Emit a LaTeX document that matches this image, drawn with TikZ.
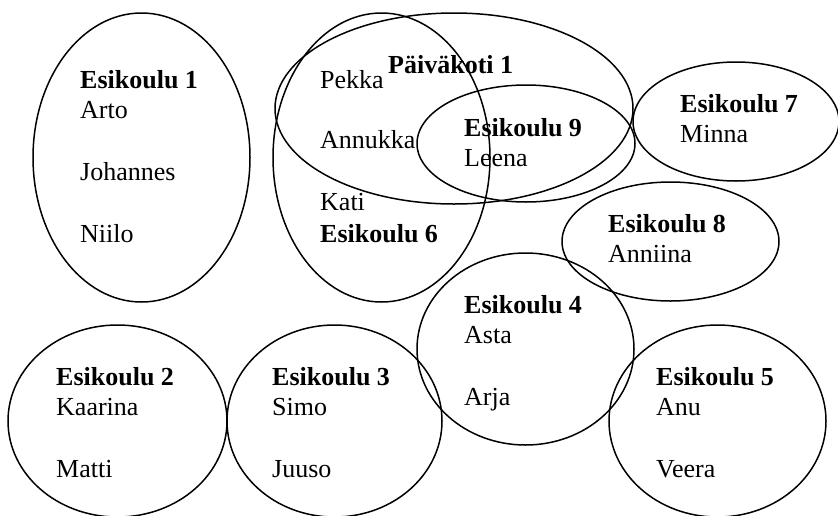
\documentclass[tikz,border=0pt]{standalone}
\usepackage{fontspec}
\setmainfont{Liberation Serif}
\usetikzlibrary{positioning}
\tikzset{
	koulu/.style={line width=1.5pt},
	otsikko/.style={anchor=base west, inner sep=0pt, font=\fontsize{26}{30}\selectfont\bfseries},
	nimi/.style={anchor=base west, inner sep=0pt, font=\fontsize{26}{30}\selectfont}
}

\begin{document}
\begin{tikzpicture}[x=1pt, y=-1pt]
		%%%%% START %%%%%
		\useasboundingbox (0, 0) rectangle (838, 515);
		
		\draw[koulu] (141.5, 157.5) ellipse [x radius=108.5pt, y radius=144.5pt];
		\node[otsikko] (eskari1) at (80, 88) {Esikoulu 1};
		\node[nimi] (arto) at (80, 118) {Arto};
		\node[nimi] (johannes) at (80, 180) {Johannes};
		\node[nimi] (niilo) at (80, 242) {Niilo};
		
		\draw[koulu] (381.5, 157.5) ellipse [x radius=108.5pt, y radius=144.5pt];
		\draw[koulu] (454, 108.5) ellipse [x radius=179pt, y radius=95.5pt];
		\draw[koulu] (526, 143.5) ellipse [x radius=109pt, y radius=58.5pt];
		\node[otsikko] (paivakoti1) at (388, 73) {Päiväkoti 1};
		\node[nimi] (pekka) at (320, 88) {Pekka};
		\node[nimi] (annukka) at (320, 148) {Annukka};
		\node[nimi] (kati) at (320, 210) {Kati};
		\node[otsikko] (eskari6) at (320, 242) {Esikoulu 6};
		\node[otsikko] (eskari9) at (464, 136) {Esikoulu 9};
		\node[nimi] (leena) at (464, 166) {Leena};
		
		\draw[koulu] (736, 121.5) ellipse [x radius=103pt, y radius=59.5pt];
		\node[otsikko] (eskari7) at (680, 112) {Esikoulu 7};
		\node[nimi] (minna) at (680, 142) {Minna};
		
		\draw[koulu] (670.5, 241.5) ellipse [x radius=108.5pt, y radius=59.5pt];
		\node[otsikko] (eskari8) at (608, 232) {Esikoulu 8};
		\node[nimi] (anniina) at (608, 262) {Anniina};
		
		\draw[koulu] (525.5, 349) ellipse [x radius=108.5pt, y radius=96pt];
		\node[otsikko] (eskari4) at (464, 313) {Esikoulu 4};
		\node[nimi] (asta) at (464, 343) {Asta};
		\node[nimi] (arja) at (464, 405) {Arja};
		
		\draw[koulu] (117.5, 421) ellipse [x radius=109.5pt, y radius=96pt];
		\node[otsikko] (eskari2) at (56, 385) {Esikoulu 2};
		\node[nimi] (kaarina) at (56, 415) {Kaarina};
		\node[nimi] (matti) at (56, 477) {Matti};
		
		\draw[koulu] (334.5, 421) ellipse [x radius=107.5pt, y radius=96pt];
		\node[otsikko] (eskari3) at (272, 385) {Esikoulu 3};
		\node[nimi] (simo) at (272, 415) {Simo};
		\node[nimi] (juuso) at (272, 477) {Juuso};
		
		\draw[koulu] (717.5, 421) ellipse [x radius=108.5pt, y radius=96pt];
		\node[otsikko] (eskari5) at (656, 385) {Esikoulu 5};
		\node[nimi] (anu) at (656, 415) {Anu};
		\node[nimi] (veera) at (656, 477) {Veera};
		%%%%% END %%%%%
	\end{tikzpicture}
\end{document}
